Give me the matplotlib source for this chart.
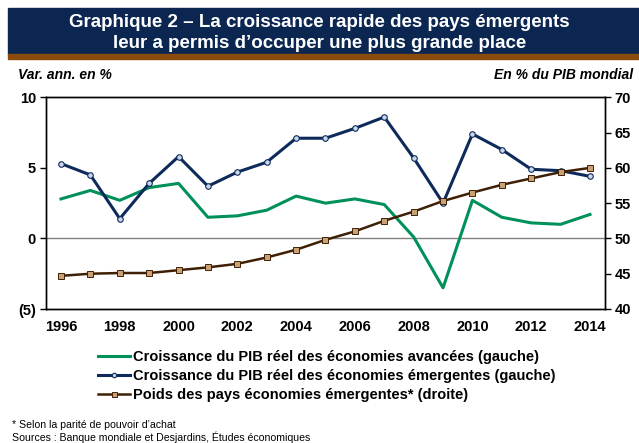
import matplotlib.pyplot as plt
from matplotlib.ticker import FuncFormatter
from matplotlib.patches import Rectangle

plt.rcParams['font.family'] = ['Liberation Sans', 'DejaVu Sans']

years = list(range(1996, 2015))
avancees = [2.8, 3.4, 2.7, 3.6, 3.9, 1.5, 1.6, 2.0, 3.0, 2.5, 2.8, 2.4, 0.1,
            -3.5, 2.7, 1.5, 1.1, 1.0, 1.7]
emergentes = [5.3, 4.5, 1.4, 3.9, 5.8, 3.7, 4.7, 5.4, 7.1, 7.1, 7.8, 8.6, 5.7,
              2.5, 7.4, 6.3, 4.9, 4.8, 4.4]
poids = [44.7, 45.0, 45.1, 45.1, 45.5, 45.9, 46.4, 47.3, 48.4, 49.8, 51.0,
         52.5, 53.8, 55.3, 56.5, 57.6, 58.5, 59.4, 60.0]

labels = ['Croissance du PIB réel des économies avancées (gauche)',
          'Croissance du PIB réel des économies émergentes (gauche)',
          'Poids des pays économies émergentes* (droite)']

green = '#00915A'
navy = '#0E2A5A'
brown = '#3F2005'

fig = plt.figure(figsize=(6.39, 4.43), dpi=100)

# banner
fig.patches.append(Rectangle((8 / 639, 1 - 54 / 443), 1, 46 / 443,
                             transform=fig.transFigure, color='#0B2650', zorder=0))
fig.patches.append(Rectangle((8 / 639, 1 - 59 / 443), 1, 5 / 443,
                             transform=fig.transFigure, color='#8A4B0C', zorder=0))
fig.text(0.5, 1 - 33 / 443,
         'Graphique 2 – La croissance rapide des pays émergents\n'
         'leur a permis d’occuper une plus grande place',
         color='white', fontsize=13.5, fontweight='bold', ha='center', va='center',
         linespacing=1.3)

fig.text(18 / 639, 1 - 75 / 443, 'Var. ann. en %', fontsize=10,
         fontweight='bold', fontstyle='italic', va='center')
fig.text(633 / 639, 1 - 75 / 443, 'En % du PIB mondial', fontsize=10,
         fontweight='bold', fontstyle='italic', va='center', ha='right')

ax = fig.add_axes([45.7 / 639, 1 - 309 / 443, (605 - 45.7) / 639, (309 - 97.3) / 443])
ax2 = ax.twinx()

ax.axhline(0, color='#808080', lw=1, zorder=1)
l1, = ax.plot(years, avancees, color=green, lw=2.2, zorder=3)
l2, = ax.plot(years, emergentes, color=navy, lw=2.2, marker='o', markersize=4,
              markerfacecolor='#C9D7EA', markeredgecolor=navy,
              markeredgewidth=0.8, zorder=3)
l3, = ax2.plot(years, poids, color=brown, lw=1.8, marker='s', markersize=4.5,
               markerfacecolor='#C8A274', markeredgecolor=brown,
               markeredgewidth=0.7, zorder=3)

ax.set_xlim(1995.48, 2014.51)
ax.set_ylim(-5, 10)
ax.set_yticks([-5, 0, 5, 10])
ax.yaxis.set_major_formatter(FuncFormatter(
    lambda v, p: f'({abs(int(v))})' if v < 0 else f'{int(v)}'))
ax2.set_ylim(40, 70)
ax2.set_yticks([40, 45, 50, 55, 60, 65, 70])
ax.set_xticks(range(1996, 2015, 2))

for a in (ax, ax2):
    for s in a.spines.values():
        s.set_linewidth(1)
        s.set_color('black')
    a.tick_params(labelsize=10.5, width=1, length=4, pad=3)
    for t in a.get_yticklabels() + a.get_xticklabels():
        t.set_fontweight('bold')
ax.tick_params(axis='x', length=0, pad=8)

fig.legend([l1, l2, l3], labels, loc='upper left',
           bbox_to_anchor=(91 / 639, 1 - 343 / 443), frameon=False,
           prop={'size': 10.5, 'weight': 'bold'}, handlelength=2.2,
           handletextpad=0.15, labelspacing=0.35, borderpad=0, markerscale=0.8)

fig.text(12 / 639, 1 - 425 / 443, '* Selon la parité de pouvoir d’achat',
         fontsize=7.6, va='center')
fig.text(12 / 639, 1 - 437 / 443,
         'Sources : Banque mondiale et Desjardins, Études économiques',
         fontsize=7.6, va='center')

fig.savefig('out.png', dpi=100)
